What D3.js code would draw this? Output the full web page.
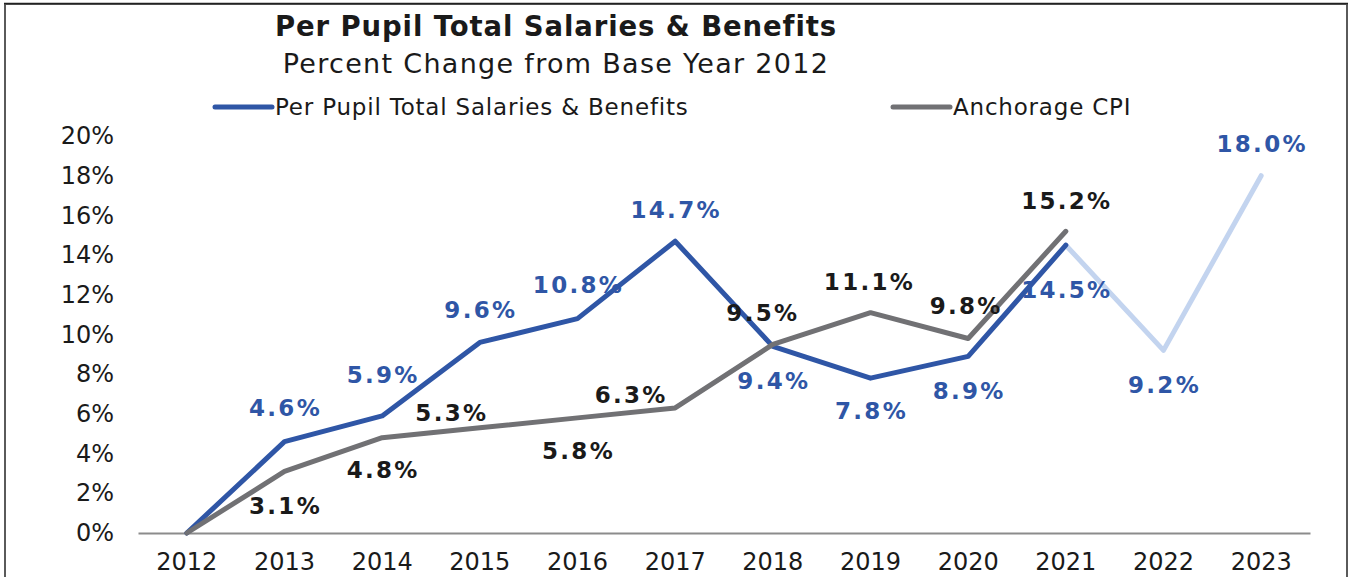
<!DOCTYPE html>
<html>
<head>
<meta charset="utf-8">
<script src="https://cdn.jsdelivr.net/npm/d3@7"></script>
<style>
  body { margin: 0; background: #fff; }
  svg { display: block; }
</style>
</head>
<body>
<div id="chart"></div>
<script>
// chart data
var years = ["2012", "2013", "2014", "2015", "2016", "2017", "2018", "2019", "2020", "2021", "2022", "2023"];
var pupilYears = ["2012", "2013", "2014", "2015", "2016", "2017", "2018", "2019", "2020", "2021"];
var pupilValues = [0, 4.6, 5.9, 9.6, 10.8, 14.7, 9.4, 7.8, 8.9, 14.5];
var projYears = ["2021", "2022", "2023"];
var projValues = [14.5, 9.2, 18.0];
var cpiYears = ["2012", "2013", "2014", "2015", "2016", "2017", "2018", "2019", "2020", "2021"];
var cpiValues = [0, 3.1, 4.8, 5.3, 5.8, 6.3, 9.5, 11.1, 9.8, 15.2];
var yTicks = [0, 2, 4, 6, 8, 10, 12, 14, 16, 18, 20];

// label placement (pixels from point)
var pupilLabelDy = [null, -34, -41, -33, -34, -31, 34, 33, 34, 45];
var projLabelDy = [null, 34, -32];
var cpiLabelDy = [null, 34, 32, -15, 33, -13, -32, -31, -33, -31];
var cpiLabelDx = [0, 0, 0, -29, 0, -45, -11, -2, -3, 0];

var svgWidth = 1351;
var svgHeight = 577;

var blue = "#2f56a6";
var lightBlue = "#c3d4ef";
var grey = "#717174";
var ink = "#1a1a1a";
var font = "DejaVu Sans, Verdana, sans-serif";

var svg = d3.select("#chart")
  .append("svg")
  .attr("width", svgWidth)
  .attr("height", svgHeight);

// outer frame
svg.append("rect")
  .attr("x", 5)
  .attr("y", 4)
  .attr("width", 1342)
  .attr("height", 600)
  .attr("fill", "none")
  .attr("stroke", "#5a5a5a")
  .attr("stroke-width", 2);
svg.append("line")
  .attr("x1", 4).attr("x2", 1348)
  .attr("y1", 3.5).attr("y2", 3.5)
  .attr("stroke", "#222")
  .attr("stroke-width", 1.5);

var x = d3.scaleBand()
  .domain(years)
  .range([138, 1310]);

var y = d3.scaleLinear()
  .domain([0, 20])
  .range([533, 136]);

var cx = d => x(d) + x.bandwidth() / 2;

// titles
svg.append("text")
  .attr("x", 556)
  .attr("y", 36)
  .attr("text-anchor", "middle")
  .attr("font-family", font)
  .attr("font-weight", "bold")
  .attr("font-size", 27.5)
  .attr("letter-spacing", 0.9)
  .attr("fill", ink)
  .text("Per Pupil Total Salaries & Benefits");

svg.append("text")
  .attr("x", 556)
  .attr("y", 73)
  .attr("text-anchor", "middle")
  .attr("font-family", font)
  .attr("font-size", 27)
  .attr("letter-spacing", 1.3)
  .attr("fill", ink)
  .text("Percent Change from Base Year 2012");

// legend
var legendItems = [
  { name: "Per Pupil Total Salaries & Benefits", color: blue, x: 215 },
  { name: "Anchorage CPI", color: grey, x: 893 }
];
var legend = svg.selectAll(".legend")
  .data(legendItems)
  .enter().append("g")
  .attr("class", "legend")
  .attr("transform", d => `translate(${d.x}, 107)`);
legend.append("line")
  .attr("x1", 0).attr("x2", 57)
  .attr("stroke", d => d.color)
  .attr("stroke-width", 5)
  .attr("stroke-linecap", "round");
legend.append("text")
  .attr("x", 60)
  .attr("y", 8)
  .attr("font-family", font)
  .attr("font-size", 23)
  .attr("letter-spacing", 0.8)
  .attr("fill", ink)
  .text(d => d.name);

// y axis labels
var yAxis = d3.axisLeft(y)
  .tickValues(yTicks)
  .tickSize(0)
  .tickPadding(0)
  .tickFormat(d => d + "%");
var yG = svg.append("g")
  .attr("transform", "translate(114, 0)")
  .call(yAxis);
yG.select(".domain").remove();
yG.selectAll("text")
  .attr("font-family", font)
  .attr("font-size", 24)
  .attr("fill", ink);

// x axis
var xAxis = d3.axisBottom(x).tickSize(0).tickPadding(20);
var xG = svg.append("g")
  .attr("transform", "translate(0, 533)")
  .call(xAxis);
xG.select(".domain")
  .attr("stroke", "#8c8c8c")
  .attr("stroke-width", 2);
xG.selectAll("text")
  .attr("font-family", font)
  .attr("font-size", 24)
  .attr("fill", ink);

// lines
var line = d3.line()
  .x(d => cx(d[0]))
  .y(d => y(d[1]));

function drawLine(xs, vals, color) {
  svg.append("path")
    .datum(d3.zip(xs, vals))
    .attr("d", line)
    .attr("fill", "none")
    .attr("stroke", color)
    .attr("stroke-width", 5)
    .attr("stroke-linejoin", "round")
    .attr("stroke-linecap", "round");
}
drawLine(projYears, projValues, lightBlue);
drawLine(pupilYears, pupilValues, blue);
drawLine(cpiYears, cpiValues, grey);

// data labels
function drawLabels(xs, vals, dys, dxs, color) {
  var items = xs.map((yr, i) => ({ yr: yr, v: vals[i], dy: dys[i], dx: dxs ? dxs[i] : 0 }))
    .filter(d => d.dy !== null);
  svg.selectAll(null)
    .data(items)
    .enter().append("text")
    .attr("x", d => cx(d.yr) + d.dx + 1)
    .attr("y", d => y(d.v) + d.dy)
    .attr("dy", "0.36em")
    .attr("text-anchor", "middle")
    .attr("font-family", font)
    .attr("font-weight", "bold")
    .attr("font-size", 23)
    .attr("letter-spacing", 2.3)
    .attr("fill", color)
    .text(d => d.v.toFixed(1) + "%");
}
drawLabels(pupilYears, pupilValues, pupilLabelDy, null, blue);
drawLabels(projYears, projValues, projLabelDy, null, blue);
drawLabels(cpiYears, cpiValues, cpiLabelDy, cpiLabelDx, ink);
</script>
</body>
</html>
